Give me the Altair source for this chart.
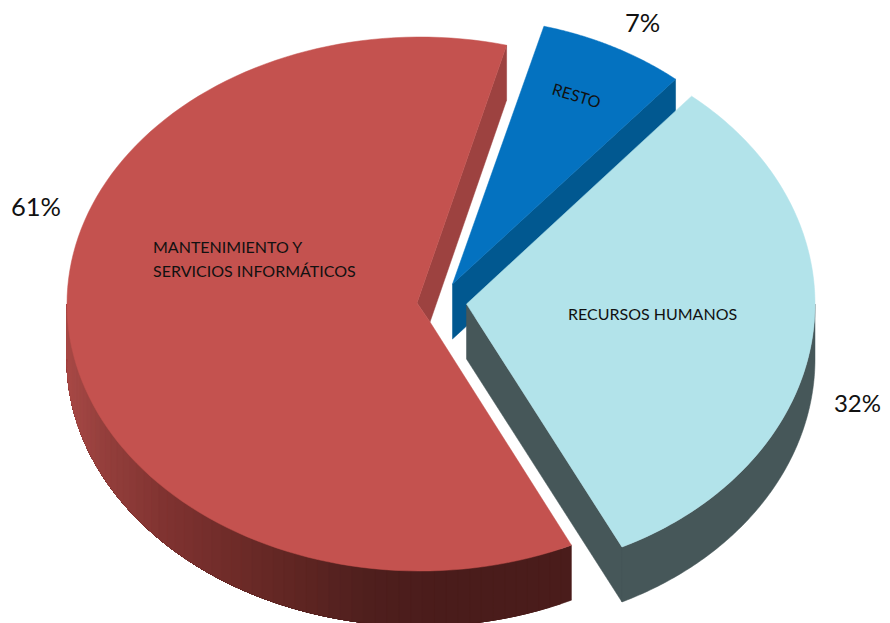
import math
import altair as alt

# ---- data ----
categories = ["MANTENIMIENTO Y SERVICIOS INFORMÁTICOS", "RESTO", "RECURSOS HUMANOS"]
shares = [61, 7, 32]
share_labels = ["61%", "7%", "32%"]

# ---- drawing style / 3D geometry (page pixels) ----
START = 154.6          # where the first slice begins, clockwise from 12 o'clock
DEPTH = 55
GEOM = {
    "MANTENIMIENTO Y SERVICIOS INFORMÁTICOS": dict(cx=420, cy=304, rx=353, ry=267, tip=(430, 322), back=(417, 303),
                                                   top="#C4524F", side="#9D4240"),
    "RESTO": dict(cx=461, cy=287, rx=338, ry=269, tip=(452.5, 284), back=None, top="#0472C0", side="#015890"),
    "RECURSOS HUMANOS": dict(cx=477, cy=304, rx=338, ry=269, tip=(466.5, 304), back=None, top="#B2E3EA", side="#465759"),
}
SHADE = [(67, (168, 73, 70)), (100, (150, 64, 61)), (167, (127, 50, 48)),
         (267, (102, 40, 37)), (367, (79, 31, 29)), (440, (74, 28, 27)), (600, (74, 28, 27))]


def shade(x):
    for (x0, c0), (x1, c1) in zip(SHADE, SHADE[1:]):
        if x <= x1:
            f = max(0, (x - x0) / (x1 - x0))
            return "#%02x%02x%02x" % tuple(round(a + (b - a) * f) for a, b in zip(c0, c1))
    return "#4a1c1b"


def pt(g, t, dy=0):
    r = math.radians(t)
    return [g["cx"] + g["rx"] * math.sin(r), g["cy"] - g["ry"] * math.cos(r) + dy]


def arc(g, t0, t1, dy=0, n=120):
    return [pt(g, t0 + (t1 - t0) * i / n, dy) for i in range(n + 1)]


def poly(points, fill):
    ring = [list(p) for p in points]
    ring.append(ring[0])
    return {"type": "Feature", "properties": {"fill": fill},
            "geometry": {"type": "Polygon", "coordinates": [ring]}}


features = []
angle = START
for name, share in zip(categories, shares):
    g = GEOM[name]
    t0, t1 = angle, angle + share * 3.6
    angle = t1
    tip = g["tip"]
    tip_low = (tip[0], tip[1] + DEPTH)
    if name == categories[0]:
        # shaded outer rim: each strip runs on to the rim's far end, the next one paints over it
        n = 60
        rim_end = 270
        for i in range(n):
            a = t0 + (rim_end - t0) * i / n
            strip = arc(g, a, rim_end, 0, 60) + arc(g, rim_end, a, DEPTH, 60)
            c = shade(pt(g, a + (rim_end - t0) / n / 2)[0])
            features.append(poly(strip, c))
        # inner wall
        features.append(poly([pt(g, t1), pt(g, t1, DEPTH), tip, g["back"]], g["side"]))
        features.append(poly([tip] + arc(g, t0, t1) + [g["back"]], g["top"]))
    elif name == "RESTO":
        features.append(poly([pt(g, t1), pt(g, t1, DEPTH), tip_low, tip], g["side"]))
        features.append(poly([tip] + arc(g, t0, t1), g["top"]))
    else:
        features.append(poly([tip, tip_low, pt(g, t1, DEPTH), pt(g, t1)], g["side"]))
        features.append(poly(arc(g, 450, t1) + arc(g, t1, 450, DEPTH), g["side"]))
        features.append(poly([tip] + arc(g, t0, t1), g["top"]))

W, H = 874, 615
pie = alt.Chart(alt.InlineData(values={"type": "FeatureCollection", "features": features},
                               format=alt.DataFormat(property="features", type="json"))).mark_geoshape(
    strokeWidth=0.5, strokeJoin="round"
).encode(
    fill=alt.Fill("properties.fill:N", scale=None, legend=None),
    stroke=alt.Stroke("properties.fill:N", scale=None, legend=None),
).project(type="identity", scale=1, translate=[-8, -8])


def text(label, x, y, size, angle=0, align="left"):
    return alt.Chart(alt.Data(values=[{"t": label}])).mark_text(
        font="Lato", fontSize=size, align=align, baseline="alphabetic", angle=angle, color="#111111"
    ).encode(text="t:N", x=alt.value(x - 8), y=alt.value(y - 8))


small = 16
big = 25.5
layers = [
    pie,
    text("MANTENIMIENTO Y", 153, 253, small),
    text("SERVICIOS INFORMÁTICOS", 153, 277, small),
    text(categories[2], 568, 320, small),
    text(categories[1], 551, 94, small, angle=17),
    text(share_labels[0], 11, 216, big),
    text(share_labels[1], 625, 32, big),
    text(share_labels[2], 881, 412, 24, align="right"),
]

chart = alt.layer(*layers).properties(
    width=W, height=H, padding=0, autosize=alt.AutoSizeParams(type="none")
).configure_view(stroke=None)

chart.save("out.html", embed_options={"renderer": "svg", "actions": False})
